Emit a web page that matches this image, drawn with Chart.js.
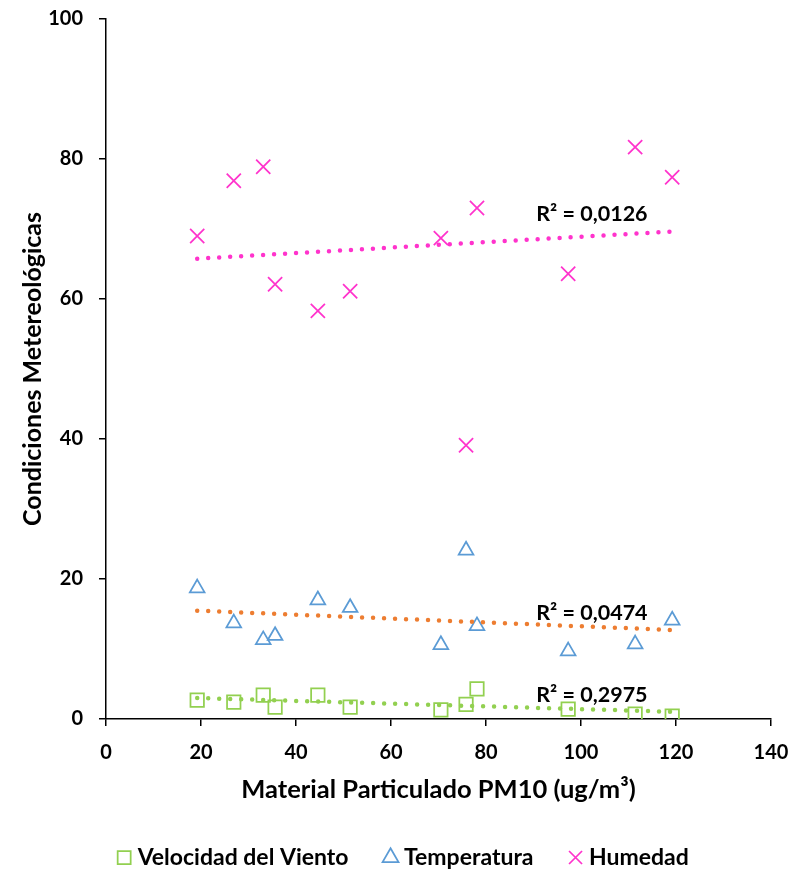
<!DOCTYPE html>
<html>
<head>
<meta charset="utf-8">
<script src="https://cdn.jsdelivr.net/npm/chart.js@4.4.1/dist/chart.umd.min.js"></script>
<style>
  html, body { margin: 0; padding: 0; background: #ffffff; }
  #wrap { width: 793px; height: 873px; }
</style>
</head>
<body>
<div id="wrap"><canvas id="chart" width="793" height="873"></canvas></div>
<script>
// PM10 concentration for each sampling day (x values)
const pm10 = [19.2, 26.9, 33.1, 35.6, 44.6, 51.4, 70.5, 75.8, 78.1, 97.3, 111.4, 119.2];
// Meteorological readings for the same days
const velocidadViento = [2.7, 2.4, 3.4, 1.7, 3.4, 1.7, 1.3, 2.1, 4.3, 1.4, 0.7, 0.4];
const temperatura = [18.7, 13.7, 11.3, 11.9, 17.0, 15.9, 10.6, 24.1, 13.3, 9.7, 10.7, 14.1];
const humedad = [69.0, 76.9, 78.9, 62.1, 58.3, 61.1, 68.7, 39.1, 73.0, 63.6, 81.7, 77.4];

const seriesNames = ['Velocidad del Viento', 'Temperatura', 'Humedad'];
const r2Texts = ['R² = 0,2975', 'R² = 0,0474', 'R² = 0,0126'];
const xTickValues = [0, 20, 40, 60, 80, 100, 120, 140];
const yTickValues = [0, 20, 40, 60, 80, 100];

const FONT = 'Lato, "Open Sans", "Liberation Sans", sans-serif';
const markerColors = ['#92D050', '#5B9BD5', '#FF33CC'];
const trendColors = ['#92D050', '#ED7D31', '#FF33CC'];
const markerStyles = ['rect', 'triangle', 'crossRot'];
const markerRadii = [9.5, 8.5, 10];
// where each R² label sits, in data units
const r2LabelAt = [{ x: 102.3, y: 3.4 }, { x: 102.3, y: 15.1 }, { x: 102.3, y: 72.1 }];

// least-squares line through (xs, ys), evaluated at the x extremes
function linearTrend(xs, ys) {
  const n = xs.length;
  const mx = xs.reduce((a, b) => a + b, 0) / n;
  const my = ys.reduce((a, b) => a + b, 0) / n;
  let sxy = 0, sxx = 0;
  for (let i = 0; i < n; i++) {
    sxy += (xs[i] - mx) * (ys[i] - my);
    sxx += (xs[i] - mx) * (xs[i] - mx);
  }
  const slope = sxy / sxx;
  const x0 = Math.min(...xs), x1 = Math.max(...xs);
  return [
    { x: x0, y: my + slope * (x0 - mx) },
    { x: x1, y: my + slope * (x1 - mx) }
  ];
}

const seriesValues = [velocidadViento, temperatura, humedad];

const datasets = [];
seriesValues.forEach((vals, i) => {
  datasets.push({
    label: seriesNames[i],
    data: pm10.map((x, k) => ({ x: x, y: vals[k] })),
    showLine: false,
    pointStyle: markerStyles[i],
    pointRadius: markerRadii[i],
    pointBorderWidth: 1.75,
    borderWidth: 1.75,
    borderColor: markerColors[i],
    backgroundColor: 'rgba(0,0,0,0)',
    pointBackgroundColor: 'rgba(0,0,0,0)',
    pointBorderColor: markerColors[i],
    order: 1
  });
});
// dotted linear trendlines (unlabelled, kept out of the legend)
seriesValues.forEach((vals, i) => {
  datasets.push({
    label: '',
    data: linearTrend(pm10, vals),
    showLine: true,
    pointRadius: 0,
    borderColor: trendColors[i],
    borderWidth: 4.5,
    borderDash: [0, 11],
    borderCapStyle: 'round',
    fill: false,
    order: 0
  });
});

const r2Plugin = {
  id: 'r2Labels',
  afterDatasetsDraw(chart) {
    const { ctx, scales } = chart;
    ctx.save();
    ctx.font = 'bold 21.5px ' + FONT;
    ctx.fillStyle = '#000000';
    ctx.textAlign = 'center';
    ctx.textBaseline = 'middle';
    r2Texts.forEach((t, i) => {
      ctx.fillText(t, scales.x.getPixelForValue(r2LabelAt[i].x), scales.y.getPixelForValue(r2LabelAt[i].y));
    });
    ctx.restore();
  }
};

// centre the legend row under the plot area rather than the whole canvas
const legendOffset = {
  id: 'legendOffset',
  afterLayout(chart) {
    const lg = chart.legend;
    if (lg) { lg.left += 20; lg.right += 20; }
  }
};

new Chart(document.getElementById('chart'), {
  type: 'scatter',
  data: { datasets: datasets },
  plugins: [r2Plugin, legendOffset],
  options: {
    responsive: false,
    animation: false,
    layout: { padding: { left: 0, top: 19, right: 22, bottom: -6 } },
    plugins: {
      tooltip: { enabled: false },
      legend: {
        position: 'bottom',
        labels: {
          usePointStyle: true,
          boxHeight: 13,
          boxWidth: 4,
          padding: 40,
          color: '#000000',
          font: { family: FONT, size: 23, weight: 'bold' },
          filter: (item) => item.text !== ''
        }
      }
    },
    scales: {
      x: {
        type: 'linear',
        min: 0,
        max: 140,
        afterBuildTicks: (scale) => { scale.ticks = xTickValues.map(v => ({ value: v })); },
        afterFit: (scale) => { scale.height = 87; scale.paddingLeft = 0; scale.paddingRight = 0; },
        border: { display: true, color: '#000000', width: 1.5 },
        grid: { display: true, drawOnChartArea: false, drawTicks: true, tickLength: 7, color: '#000000', lineWidth: 1.5 },
        ticks: { color: '#000000', padding: 15, font: { family: FONT, size: 20, weight: 'bold' } },
        title: {
          display: true,
          text: 'Material Particulado PM10 (ug/m³)',
          color: '#000000',
          padding: { top: 0, bottom: 1 },
          font: { family: FONT, size: 25.5, weight: 'bold' }
        }
      },
      y: {
        type: 'linear',
        min: 0,
        max: 100,
        afterBuildTicks: (scale) => { scale.ticks = yTickValues.map(v => ({ value: v })); },
        afterFit: (scale) => { scale.width = 106; scale.paddingTop = 0; scale.paddingBottom = 0; },
        border: { display: true, color: '#000000', width: 1.5 },
        grid: { display: true, drawOnChartArea: false, drawTicks: true, tickLength: 7, color: '#000000', lineWidth: 1.5 },
        ticks: { color: '#000000', padding: 16, font: { family: FONT, size: 20, weight: 'bold' } },
        title: {
          display: true,
          text: 'Condiciones Metereológicas',
          color: '#000000',
          padding: { top: 18, bottom: 0 },
          font: { family: FONT, size: 25, weight: 'bold' }
        }
      }
    }
  }
});
</script>
</body>
</html>
